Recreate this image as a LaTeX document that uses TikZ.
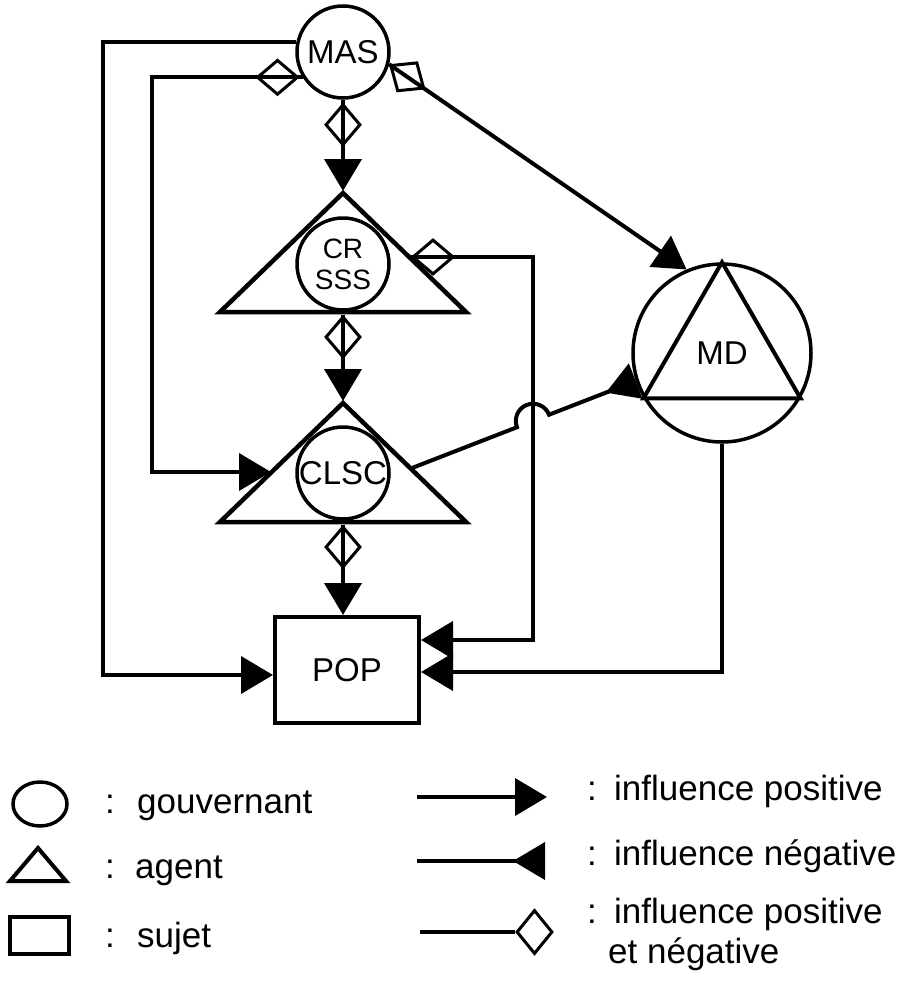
\documentclass[tikz,border=0pt]{standalone}
\usepackage{fontspec}
\setmainfont{Liberation Sans}
\usetikzlibrary{arrows.meta,shapes.geometric,calc}
\begin{document}
\begin{tikzpicture}[x=1pt,y=-1pt,
  conn/.style={line width=4pt},
  posarr/.style={-{Triangle[length=32pt,width=37pt]}},
  negarr/.style={-{Triangle[reversed,length=32pt,width=37pt]}},
  gov/.style={circle, draw, line width=3.5pt, inner sep=0pt, minimum size=92pt, align=center, font=\fontsize{33}{27}\selectfont},
  agentshape/.style={line width=4.5pt, line join=miter},
  dmh/.style={diamond, draw, line width=3pt, inner sep=0pt, minimum width=41pt, minimum height=35pt},
  dmv/.style={diamond, draw, line width=3pt, inner sep=0pt, minimum width=35pt, minimum height=41pt},
  dml/.style={diamond, draw, line width=3pt, inner sep=0pt, minimum width=36pt, minimum height=44pt},
  lbl/.style={font=\fontsize{35}{40}\selectfont, inner sep=0pt},
]
\useasboundingbox (0,0) rectangle (905,983);

% governing nodes
\node[gov] (mas) at (343,52) {MAS};
\node[gov, font=\fontsize{28}{31}\selectfont] (cr) at (343,264) {CR\\SSS};
\node[gov] (clsc) at (343,473) {CLSC};
\node[gov, minimum size=178pt] (md) at (722,353) {MD};
\node[draw, line width=4pt, minimum width=144pt, minimum height=106pt, inner sep=0pt, font=\fontsize{33}{36}\selectfont] (pop) at (347,670) {POP};

% agent triangles
\draw[agentshape] (343,193) -- (466,312) -- (220,312) -- cycle;
\draw[agentshape] (343,403) -- (466,522) -- (220,522) -- cycle;
\draw[line width=4pt, line join=miter] (md.90) -- (md.210) -- (md.330) -- cycle;

% connection points
\coordinate (crtop) at (343,191);
\coordinate (crbot) at (343,315);
\coordinate (clsctop) at (343,401);
\coordinate (clscbot) at (343,525);
\coordinate (crR) at (411,257);
\coordinate (clscL) at (271,472);
\coordinate (clscR) at (412,468);
\coordinate (c1) at (103,675);
\coordinate (c2) at (152,472);
\coordinate (c3) at (533,640);
\coordinate (c4) at (722,672);
\coordinate (j1) at (517,427.2);

% MAS -> CR
\draw[conn, posarr] (mas.south) -- (crtop);
\node[dmv, anchor=north, yshift=-3pt] at (mas.south) {};
% CR -> CLSC
\draw[conn, posarr] (crbot) -- (clsctop);
\node[dmv, anchor=north] at (crbot) {};
% CLSC -> POP
\draw[conn, posarr] (clscbot) -- (clscbot |- pop.north);
\node[dmv, anchor=north] at (clscbot) {};
% MAS -> POP (outer)
\draw[conn, posarr] (mas.168) -| (c1) -- (c1 -| pop.west);
% MAS -> CLSC (inner)
\draw[conn, posarr] (mas.212) -| (c2) -- (clscL);
\node[dmh, anchor=east, xshift=-3pt] at (mas.212) {};
% MAS -> MD
\draw[conn, posarr] (mas.-15) -- (md.113);
\node[dmh, rotate=-34.5, anchor=west] at (mas.-15) {};
% CR -> POP
\draw[conn, posarr] (crR) -| (c3) -- (c3 -| pop.east);
\node[dmh, anchor=west] at (crR) {};
% MD -> POP
\draw[conn, posarr] (md.south) -- (c4) -- (c4 -| pop.east);
% CLSC -> MD (negative, with jump)
\draw[conn, negarr] (clscR) -- (j1) arc[start angle=158.7, end angle=338.7, radius=17.2] -- (md.198);

% legend shapes
\node[draw, ellipse, line width=3.5pt, minimum width=54pt, minimum height=44pt, inner sep=0pt] (lgov) at (40,804) {};
\draw[line width=4pt, line join=miter] (38,848) -- (66,881) -- (10,881) -- cycle;
\node[draw, line width=4pt, minimum width=59pt, minimum height=37pt, inner sep=0pt] (lsuj) at (39,935) {};

\node[lbl, anchor=base] at (110,813) {:};
\node[lbl, anchor=base west] at (137,813) {gouvernant};
\node[lbl, anchor=base] at (110,878) {:};
\node[lbl, anchor=base west] at (135,878) {agent};
\node[lbl, anchor=base] at (110,947) {:};
\node[lbl, anchor=base west] at (137,947) {sujet};

% legend connectors
\coordinate (a1s) at (417,797);
\coordinate (a1e) at (547,797);
\coordinate (a2s) at (417,861);
\coordinate (a2e) at (545,861);
\coordinate (a3s) at (420,932);
\coordinate (a3e) at (515,932);
\draw[conn, posarr] (a1s) -- (a1e);
\draw[conn, negarr] (a2s) -- (a2e);
\draw[conn] (a3s) -- (a3e);
\node[dml, anchor=west] at (a3e) {};

\node[lbl, anchor=base] at (592,800) {:};
\node[lbl, anchor=base west] at (614,800) {influence positive};
\node[lbl, anchor=base] at (592,865) {:};
\node[lbl, anchor=base west] at (614,865) {influence négative};
\node[lbl, anchor=base] at (592,923) {:};
\node[lbl, anchor=base west] at (614,923) {influence positive};
\node[lbl, anchor=base west] at (608,963) {et négative};
\end{tikzpicture}
\end{document}
